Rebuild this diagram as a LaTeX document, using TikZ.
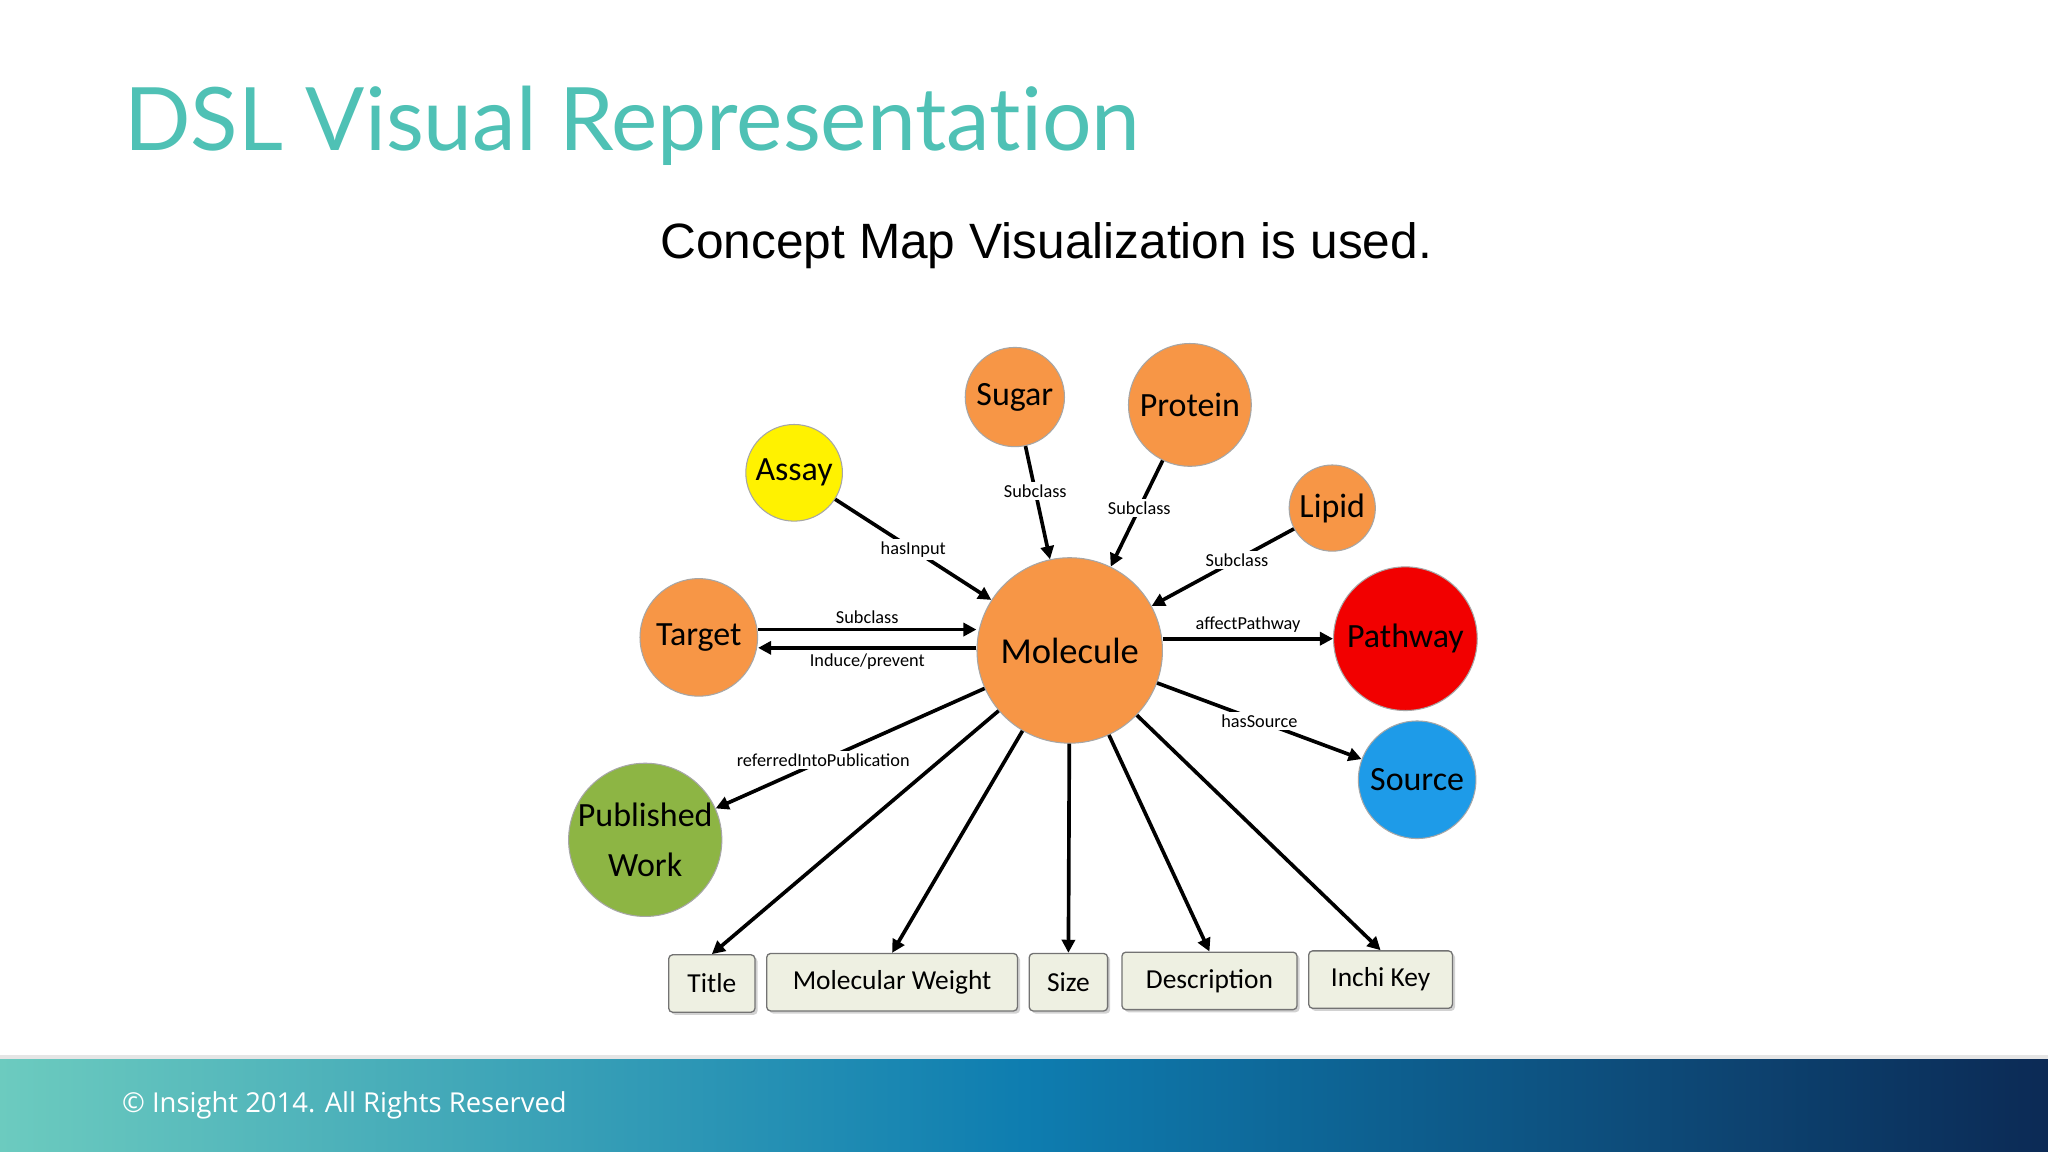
\documentclass[tikz,border=0pt]{standalone}
\usepackage{fontspec}
\setmainfont{Carlito}
\newfontfamily\titlefont[Ligatures={NoCommon,NoRare}]{Lato}
\newfontfamily\subfont{Liberation Sans}
\newfontfamily\footfont{Open Sans}
\usetikzlibrary{arrows.meta,shadows}
\definecolor{teal}{HTML}{4FC1B5}
\definecolor{orng}{HTML}{F79646}
\definecolor{boxfill}{HTML}{EEF0E2}
\definecolor{pubgreen}{HTML}{8DB544}
\definecolor{srcblue}{HTML}{1E9BE8}
\definecolor{footL}{HTML}{6CCBBF}
\definecolor{footM}{HTML}{0E7DB0}
\definecolor{footR}{HTML}{0C2A55}
\tikzset{
  circ/.style={circle,draw=black!35,line width=0.8pt,inner sep=0pt,font=\fontsize{26}{28}\selectfont},
  bx/.style={rectangle,rounded corners=3pt,draw=black!55,fill=boxfill,line width=1pt,minimum height=44pt,font=\fontsize{21}{24}\selectfont,drop shadow={shadow xshift=2pt,shadow yshift=-2pt,opacity=0.35}},
  ed/.style={line width=2.8pt,-{Triangle[length=10pt,width=10pt]}},
  lb/.style={fill=white,inner sep=2pt,font=\fontsize{14}{16}\selectfont}
}
\begin{document}
\begin{tikzpicture}[x=1pt,y=-1pt]
\useasboundingbox (0,0) rectangle (1568,882);
\fill[white] (0,0) rectangle (1568,882);
\shade[left color=footL,right color=footR,middle color=footM] (0,810) rectangle (1568,882);
\fill[black!10] (0,808) rectangle (1568,811);
\node[anchor=base west,text=white,font=\footfont\fontsize{21}{24}\selectfont] (ft) at (90,852) {© Insight 2014. All Rights Reserved};
\node[anchor=base west,text=teal,font=\titlefont\fontsize{67}{76}\selectfont,inner sep=0pt] (tt) at (95,115) {DSL Visual Representation};
\node[font=\subfont\fontsize{38}{40}\selectfont] (st) at (801,188) {Concept Map Visualization is used.};

\node[circ,fill=orng,minimum size=142pt,font=\fontsize{28}{30}\selectfont] (mol) at (819,498) {Molecule};
\node[circ,fill=orng,minimum size=76pt] (sug) at (777,304) {Sugar};
\node[circ,fill=orng,minimum size=94pt] (pro) at (911,310) {Protein};
\node[circ,fill=yellow,minimum size=74pt] (ass) at (608,362) {Assay};
\node[circ,fill=orng,minimum size=66pt] (lip) at (1020,389) {Lipid};
\node[circ,fill=orng,minimum size=90pt] (tar) at (535,488) {Target};
\node[circ,fill=red!95!black,minimum size=110pt] (pat) at (1076,489) {Pathway};
\node[circ,fill=srcblue,minimum size=90pt] (src) at (1085,597) {Source};
\node[circ,fill=pubgreen,minimum size=110pt,align=center,font=\fontsize{26}{38}\selectfont] (pub) at (494,643) {Published\\Work};

\node[bx,minimum width=66pt] (t1) at (545,753) {Title};
\node[bx,minimum width=192pt] (t2) at (683,752) {Molecular Weight};
\node[bx,minimum width=60pt] (t3) at (818,752) {Size};
\node[bx,minimum width=134pt] (t4) at (926,751) {Description};
\node[bx,minimum width=110pt] (t5) at (1057,750) {Inchi Key};

\draw[ed] (ass) -- node[lb]{hasInput} (mol);
\draw[ed] (sug) -- node[lb,pos=0.4]{Subclass} (mol);
\draw[ed] (pro) -- node[lb,pos=0.45]{Subclass} (mol);
\draw[ed] (lip) -- node[lb,pos=0.4]{Subclass} (mol);
\draw[ed] (tar.east|-0,482) -- node[above,font=\fontsize{14}{16}\selectfont]{Subclass} (mol.west|-0,482);
\draw[ed] (mol.west|-0,496) -- node[below,font=\fontsize{14}{16}\selectfont]{Induce/prevent} (tar.east|-0,496);
\draw[ed] (mol.east|-0,489) -- node[above,font=\fontsize{14}{16}\selectfont]{affectPathway} (pat.west|-0,489);
\draw[ed] (mol) -- node[lb]{hasSource} (src);
\draw[ed] (mol) -- node[lb,pos=0.6]{referredIntoPublication} (pub);
\draw[ed] (mol) -- (t1.north);
\draw[ed] (mol) -- (t2.north);
\draw[ed] (mol) -- (t3.north);
\draw[ed] (mol) -- (t4.north);
\draw[ed] (mol) -- (t5.north);
\end{tikzpicture}
\end{document}
